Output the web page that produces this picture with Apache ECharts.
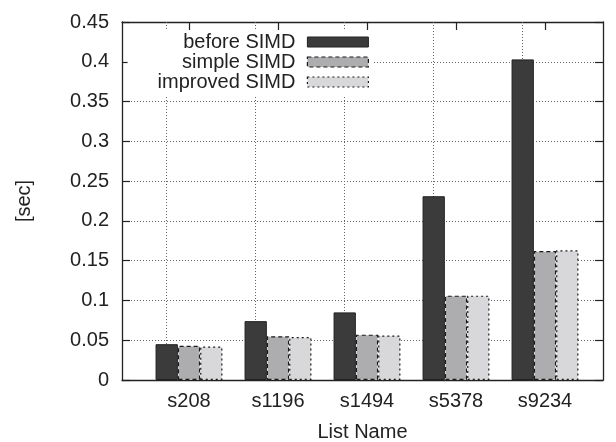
<!DOCTYPE html>
<html>
<head>
<meta charset="utf-8">
<script src="https://cdn.jsdelivr.net/npm/echarts@6/dist/echarts.min.js"></script>
<style>html,body{margin:0;padding:0;background:#fff}#c{width:616px;height:442px}</style>
</head>
<body>
<div id="c"></div>
<script>
const categories = ['s208', 's1196', 's1494', 's5378', 's9234'];
const seriesNames = ['before SIMD', 'simple SIMD', 'improved SIMD'];
const beforeSIMD = [0.045, 0.074, 0.085, 0.231, 0.403];
const simpleSIMD = [0.043, 0.055, 0.057, 0.106, 0.162];
const improvedSIMD = [0.042, 0.054, 0.056, 0.106, 0.163];
const yTicks = { min: 0, max: 0.45, interval: 0.05 };

const FONT = "'Liberation Sans', Arial, Helvetica, sans-serif";
const TXT = '#222';
const FS = 20;

const chart = echarts.init(document.getElementById('c'), null, { renderer: 'canvas' });

const frameLine = { show: true, onZero: false, lineStyle: { color: '#222', width: 1.3 } };
const gridLineStyle = { color: '#666', width: 1, type: [1, 2] };

const styles = [
  { color: '#3b3b3b', borderColor: '#222', borderWidth: 1 },
  { color: '#adadaf', borderColor: '#1a1a1a', borderWidth: 1.2, borderType: [4, 3] },
  { color: '#d8d8da', borderColor: '#1a1a1a', borderWidth: 1.2, borderType: [2, 3] }
];

const option = {
  backgroundColor: '#fff',
  animation: false,
  textStyle: { fontFamily: FONT },
  grid: [
    { left: 122, right: 13, top: 22, bottom: 62, containLabel: false, outerBoundsMode: 'none' },
    { left: 144.5, right: 26.5, top: 22, bottom: 62, containLabel: false, outerBoundsMode: 'none' }
  ],
  legend: {
    orient: 'vertical',
    align: 'right',
    right: 244,
    top: 30,
    padding: [2, 3, 4, 30],
    backgroundColor: '#fff',
    itemWidth: 61,
    itemHeight: 10,
    itemGap: 0,
    data: seriesNames.map((n, i) => ({ name: n, icon: 'rect', itemStyle: styles[i] })),
    textStyle: { fontFamily: FONT, fontSize: FS, color: TXT, lineHeight: 20, padding: [0, 7, 0, 0] }
  },
  xAxis: [
    { gridIndex: 0, type: 'value', min: 0, max: 1, position: 'bottom',
      axisLine: frameLine, axisTick: { show: false }, axisLabel: { show: false }, splitLine: { show: false },
      name: 'List Name', nameLocation: 'middle', nameGap: 42,
      nameTextStyle: { fontFamily: FONT, fontSize: FS, color: TXT } },
    { gridIndex: 0, type: 'value', min: 0, max: 1, position: 'top',
      axisLine: frameLine, axisTick: { show: false }, axisLabel: { show: false }, splitLine: { show: false } },
    { gridIndex: 1, type: 'category', data: categories, position: 'bottom',
      axisLine: { show: false, onZero: false }, axisTick: { show: false },
      axisLabel: { fontFamily: FONT, fontSize: FS, color: TXT, margin: 11 }, splitLine: { show: false } },
    { gridIndex: 1, type: 'category', data: categories, position: 'top',
      axisLine: { show: false, onZero: false },
      axisTick: { show: true, inside: true, alignWithLabel: true, length: 8, lineStyle: { color: '#222', width: 1.2 } },
      axisLabel: { show: false }, splitLine: { show: false } }
  ],
  yAxis: [
    { gridIndex: 0, type: 'value', min: yTicks.min, max: yTicks.max, interval: yTicks.interval, position: 'left',
      axisLine: frameLine,
      axisTick: { show: true, inside: true, length: 8, lineStyle: { color: '#222', width: 1.2 } },
      axisLabel: { fontFamily: FONT, fontSize: FS, color: TXT, margin: 13 },
      splitLine: { show: true, lineStyle: gridLineStyle },
      name: '[sec]', nameLocation: 'middle', nameGap: 88, nameRotate: 90,
      nameTextStyle: { fontFamily: FONT, fontSize: FS, color: TXT } },
    { gridIndex: 0, type: 'value', min: yTicks.min, max: yTicks.max, interval: yTicks.interval, position: 'right',
      axisLine: frameLine,
      axisTick: { show: true, inside: true, length: 8, lineStyle: { color: '#222', width: 1.2 } },
      axisLabel: { show: false }, splitLine: { show: false } },
    { gridIndex: 1, type: 'value', min: yTicks.min, max: yTicks.max, interval: yTicks.interval, show: false }
  ],
  series: [
    { name: seriesNames[0], type: 'bar', xAxisIndex: 2, yAxisIndex: 2, data: beforeSIMD,
      barWidth: 22.3, barGap: '0%', itemStyle: styles[0],
      markLine: { silent: true, z: 1, symbol: ['none', 'none'], label: { show: false },
        lineStyle: gridLineStyle, emphasis: { disabled: true },
        data: categories.map(c => ({ xAxis: c })) } },
    { name: seriesNames[1], type: 'bar', xAxisIndex: 2, yAxisIndex: 2, data: simpleSIMD,
      barWidth: 22.3, barGap: '0%', itemStyle: styles[1] },
    { name: seriesNames[2], type: 'bar', xAxisIndex: 2, yAxisIndex: 2, data: improvedSIMD,
      barWidth: 22.3, barGap: '0%', itemStyle: styles[2] }
  ]
};
chart.setOption(option);
</script>
</body>
</html>
